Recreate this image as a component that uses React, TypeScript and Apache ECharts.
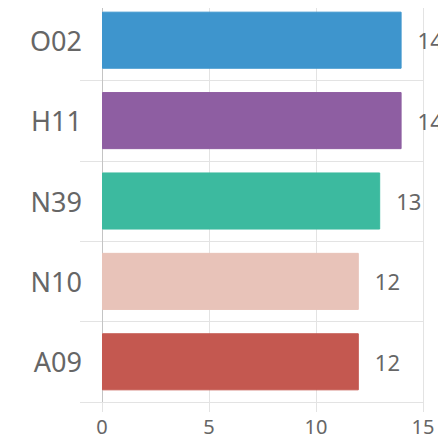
import React, { useEffect, useRef } from "react";
import * as echarts from "echarts";

const categories = ["O02", "H11", "N39", "N10", "A09"];
const values = [14, 14, 13, 12, 12];
const colors = ["#3e95cd", "#8e5ea2", "#3cba9f", "#e8c3b9", "#c45850"];
const xTicks = [0, 5, 10, 15];

export default function App() {
  const ref = useRef<HTMLDivElement>(null);
  useEffect(() => {
    if (!ref.current) return;
    const chart = echarts.init(ref.current, undefined, { renderer: "svg" });
    const font = "'Noto Sans', sans-serif";
    chart.setOption({
      animation: false,
      grid: { left: 102, right: 23, top: 0, bottom: 43, containLabel: false },
      xAxis: {
        type: "value",
        min: xTicks[0],
        max: xTicks[xTicks.length - 1],
        interval: 5,
        axisLine: { show: false },
        axisTick: { show: true, length: 10, lineStyle: { color: "#e3e3e3" } },
        splitLine: { show: true, lineStyle: { color: "#e3e3e3", width: 1 } },
        axisLabel: { color: "#666", fontSize: 20, fontFamily: font, margin: 14 },
      },
      yAxis: {
        type: "category",
        data: categories,
        inverse: true,
        axisLine: { show: true, lineStyle: { color: "#c4c4c4", width: 1 } },
        axisTick: {
          show: true,
          length: 22,
          interval: (i: number) => i < categories.length,
          lineStyle: { color: "#e3e3e3" },
        },
        splitLine: { show: true, lineStyle: { color: "#e3e3e3", width: 1 } },
        axisLabel: { color: "#666", fontSize: 27, fontFamily: font, margin: 20 },
      },
      series: [
        {
          type: "bar",
          data: values.map((v, i) => ({
            value: v,
            itemStyle: { color: colors[i], borderColor: colors[i], borderWidth: 1 },
          })),
          barCategoryGap: "29%",
          label: {
            show: true,
            position: "right",
            distance: 16,
            color: "#666",
            fontSize: 22,
            fontFamily: font,
          },
        },
      ],
    });
    return () => chart.dispose();
  }, []);
  return <div ref={ref} style={{ width: 446, height: 445, margin: -8 }} />;
}
